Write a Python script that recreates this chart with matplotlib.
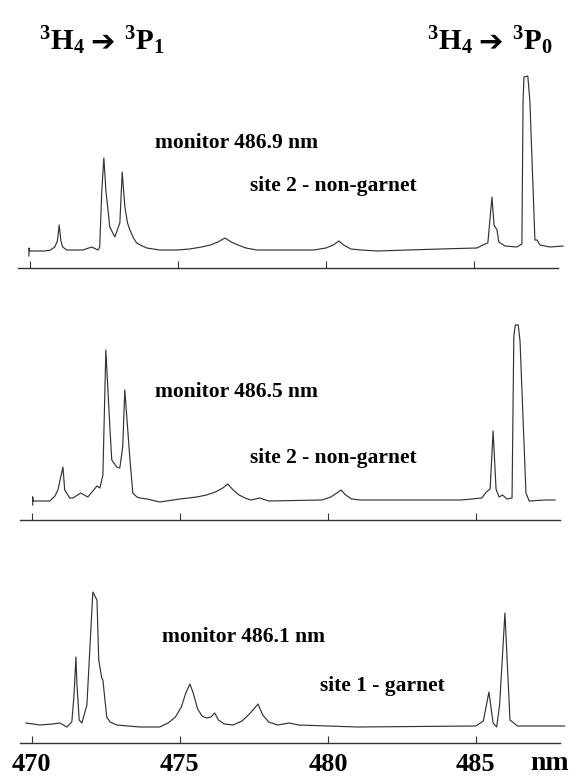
"""Three stacked excitation spectra (3H4 -> 3P1 / 3P0 region), redrawn from a scan."""

import matplotlib

matplotlib.use("Agg")
import matplotlib.pyplot as plt


W, H = 586, 779

# traces: wavelength in nm, intensity in arbitrary units (baseline ~ 0)
top_nm = [469.97, 469.97, 470.0, 470.5, 470.7, 470.84, 470.93, 470.99, 471.05, 471.11,
          471.25, 471.79, 472.09, 472.30, 472.36, 472.43, 472.50, 472.57, 472.64, 472.70,
          472.87, 473.04, 473.12, 473.21, 473.30, 473.38, 473.50, 473.61, 473.80, 473.95,
          474.39, 474.97, 475.40, 475.80, 476.10, 476.35, 476.59, 476.80, 477.03, 477.30,
          477.67, 479.60, 480.00, 480.25, 480.44, 480.60, 480.84, 481.20, 481.72, 483.85,
          485.10, 485.30, 485.47, 485.61, 485.68, 485.78, 485.84, 486.05, 486.45, 486.62,
          486.66, 486.69, 486.82, 486.89, 487.06, 487.13, 487.23, 487.57, 488.01]
top_int = [-5, 3, 0, 0, 1, 4, 10, 26, 10, 4,
           1, 1, 4, 1, 4, 60, 93, 60, 41, 24,
           14, 28, 79, 44, 28, 21, 13, 8, 5, 3,
           1, 1, 2, 4, 6, 9, 13, 9, 6, 3,
           1, 1, 3, 6, 10, 6, 2, 1, 0, 2,
           3, 6, 8, 54, 26, 21, 9, 5, 4, 7,
           150, 174, 175, 150, 11, 11, 6, 4, 5]

mid_nm = [470.03, 470.03, 470.03, 470.61, 470.78, 470.88, 471.05, 471.11, 471.28, 471.39,
          471.65, 471.89, 472.20, 472.30, 472.40, 472.50, 472.64, 472.70, 472.87, 472.97,
          473.07, 473.14, 473.24, 473.31, 473.41, 473.55, 473.65, 473.89, 474.32, 475.0,
          475.57, 475.90, 476.20, 476.45, 476.62, 476.80, 477.00, 477.20, 477.40, 477.70,
          478.00, 479.80, 480.10, 480.30, 480.44, 480.60, 480.80, 481.10, 484.50, 485.20,
          485.35, 485.48, 485.58, 485.68, 485.78, 485.90, 486.05, 486.22, 486.28, 486.33,
          486.43, 486.49, 486.69, 486.80, 487.33, 487.67]
mid_int = [-4, 4, 0, 0, 5, 11, 34, 11, 3, 3,
           8, 4, 15, 13, 26, 151, 71, 41, 34, 33,
           54, 111, 71, 43, 8, 4, 3, 2, -1, 2,
           4, 6, 9, 13, 17, 11, 6, 3, 1, 3,
           0, 1, 4, 8, 11, 6, 2, 1, 1, 3,
           9, 12, 70, 12, 4, 6, 2, 3, 165, 176,
           176, 160, 8, 0, 1, 1]

bot_nm = [469.8, 470.27, 470.7, 470.95, 471.18, 471.35, 471.42, 471.49, 471.52, 471.6,
          471.69, 471.86, 472.06, 472.20, 472.26, 472.36, 472.40, 472.53, 472.64, 472.87,
          473.65, 474.32, 474.60, 474.85, 475.05, 475.20, 475.34, 475.45, 475.60, 475.75,
          475.90, 476.05, 476.18, 476.30, 476.50, 476.80, 477.10, 477.35, 477.64, 477.80,
          478.00, 478.30, 478.70, 479.00, 481.0, 485.0, 485.25, 485.44, 485.58, 485.70,
          485.80, 485.98, 486.15, 486.40, 488.0]
bot_int = [2, 0, 1, 2, -2, 3, 28, 68, 42, 5,
           2, 20, 133, 125, 65, 47, 45, 8, 3, 0,
           -2, -2, 2, 8, 18, 32, 41, 32, 16, 9,
           7, 8, 12, 5, 1, 0, 4, 11, 21, 10,
           3, 0, 2, 0, -2, -1, 4, 33, 2, -2,
           20, 112, 5, -1, -1]

monitor_labels = ["monitor 486.9 nm", "monitor 486.5 nm", "monitor 486.1 nm"]
site_labels = ["site 2 - non-garnet", "site 2 - non-garnet", "site 1 - garnet"]
tick_nm = [470, 475, 480, 485]
tick_labels = ["470", "475", "480", "485"]

plt.rcParams["font.family"] = "Liberation Serif"
plt.rcParams["font.weight"] = "bold"
plt.rcParams["mathtext.fontset"] = "custom"
plt.rcParams["mathtext.rm"] = "Liberation Serif:bold"
plt.rcParams["mathtext.it"] = "Liberation Serif:bold"
plt.rcParams["mathtext.bf"] = "Liberation Serif:bold"
plt.rcParams["mathtext.default"] = "rm"

INK = "#333333"


def px_axes(fig, left, bottom, right, top):
    """Add axes from a box given in picture pixels (y counted from the top)."""
    return fig.add_axes([left / W, 1 - bottom / H, (right - left) / W, (bottom - top) / H])


def fig_text(fig, x, y, s, **kw):
    fig.text(x / W, 1 - y / H, s, **kw)


fig = plt.figure(figsize=(W / 100, H / 100), dpi=100)

# box = (left, axis line y, right, top) in pixels; ylim puts the baseline just above the axis
panels = [
    dict(box=(18, 268, 558, 60), ylim=(-17, 191), nm=top_nm, val=top_int),
    dict(box=(20, 520, 560, 300), ylim=(-19, 201), nm=mid_nm, val=mid_int),
    dict(box=(20, 743, 560, 560), ylim=(-18, 165), nm=bot_nm, val=bot_int),
]

for i, p in enumerate(panels):
    left, bottom, right, top = p["box"]
    ax = px_axes(fig, left, bottom, right, top)
    ax.plot(p["nm"], p["val"], color=INK, lw=0.85, clip_on=False)
    ax.set_xlim(469.6, 487.84)
    ax.set_ylim(*p["ylim"])
    for side in ("top", "left", "right"):
        ax.spines[side].set_visible(False)
    ax.spines["bottom"].set_color(INK)
    ax.spines["bottom"].set_linewidth(1.0)
    ax.set_yticks([])
    ax.set_xticks(tick_nm)
    ax.tick_params(axis="x", direction="in", length=5, width=0.8, color=INK, pad=7)
    if i == 2:
        ax.set_xticklabels(tick_labels, fontsize=19, fontweight="bold")
    else:
        ax.set_xticklabels([])
    ax.patch.set_alpha(0)

# panel annotations
mon_pos = [(155, 143), (155, 392), (162, 637)]
site_pos = [(250, 186), (250, 458), (320, 686)]
for s, (x, y) in zip(monitor_labels, mon_pos):
    fig_text(fig, x, y, s, fontsize=15.5, fontweight="bold", va="center", ha="left")
for s, (x, y) in zip(site_labels, site_pos):
    fig_text(fig, x, y, s, fontsize=15.5, fontweight="bold", va="center", ha="left")

fig_text(fig, 530, 763, "nm", fontsize=20, fontweight="bold", va="center", ha="left")

# transition headings
for x0, upper in [(39, "$^{3}$P$_{1}$"), (427, "$^{3}$P$_{0}$")]:
    fig_text(fig, x0, 50, "$^{3}$H$_{4}$", fontsize=21, va="baseline", ha="left")
    fig_text(fig, x0 + 51, 50, "\u2794", fontsize=21, fontweight="bold",
             family=["DejaVu Sans"], va="baseline", ha="left")
    fig_text(fig, x0 + 85, 50, upper, fontsize=21, va="baseline", ha="left")

fig.savefig("out.png", dpi=100)
